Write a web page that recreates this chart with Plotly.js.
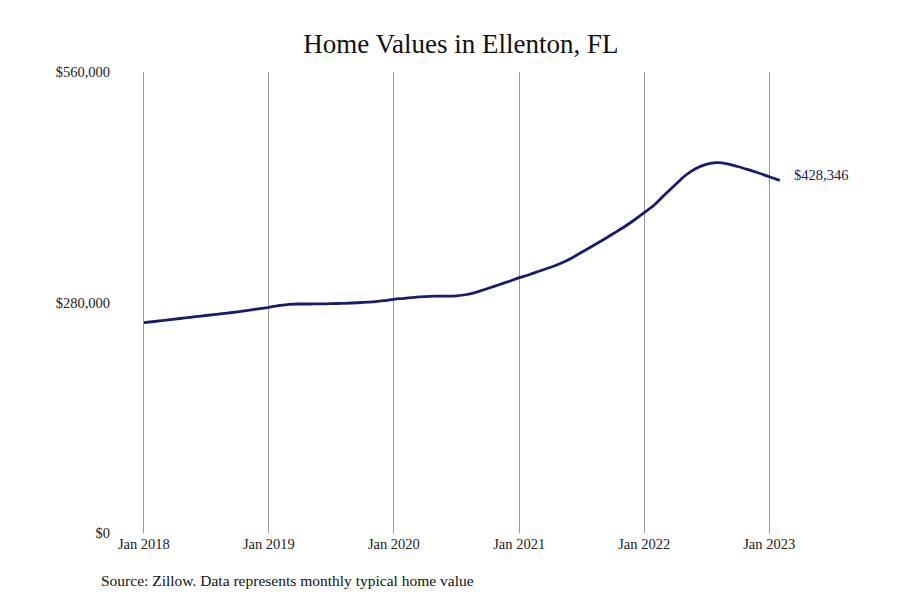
<!DOCTYPE html>
<html>
<head>
<meta charset="utf-8">
<script src="https://cdn.plot.ly/plotly-3.0.1.min.js"></script>
<style>html,body{margin:0;padding:0;background:#fff;}#chart{width:900px;height:600px;}</style>
</head>
<body>
<div id="chart"></div>
<script>
const months = [
  "2018-01-01","2018-02-01","2018-03-01","2018-04-01","2018-05-01","2018-06-01","2018-07-01","2018-08-01","2018-09-01","2018-10-01","2018-11-01","2018-12-01",
  "2019-01-01","2019-02-01","2019-03-01","2019-04-01","2019-05-01","2019-06-01","2019-07-01","2019-08-01","2019-09-01","2019-10-01","2019-11-01","2019-12-01",
  "2020-01-01","2020-02-01","2020-03-01","2020-04-01","2020-05-01","2020-06-01","2020-07-01","2020-08-01","2020-09-01","2020-10-01","2020-11-01","2020-12-01",
  "2021-01-01","2021-02-01","2021-03-01","2021-04-01","2021-05-01","2021-06-01","2021-07-01","2021-08-01","2021-09-01","2021-10-01","2021-11-01","2021-12-01",
  "2022-01-01","2022-02-01","2022-03-01","2022-04-01","2022-05-01","2022-06-01","2022-07-01","2022-08-01","2022-09-01","2022-10-01","2022-11-01","2022-12-01",
  "2023-01-01","2023-02-01"
];
const homeValues = [
  255460,256920,258380,259840,261290,262750,264210,265670,267120,268700,270530,272350,
  274170,276360,277810,278180,278180,278300,278540,278910,279390,280000,280850,282190,
  283890,285100,286320,287170,287650,287780,288020,289720,293000,297010,301260,305510,
  310130,314010,318270,322520,327380,333450,340740,348030,355560,363210,371110,379610,
  389090,399050,410590,422730,434270,442780,447880,449820,448490,445210,441320,437310,
  432820,428346
];
const yTickVals = [0, 280000, 560000];
const yTickText = ["$0", "$280,000", "$560,000"];
const lastLabel = "$428,346";

const serif = "Liberation Serif, Times New Roman, serif";

const trace = {
  x: months,
  y: homeValues,
  type: "scatter",
  mode: "lines",
  line: {color: "#1c1a6b", width: 2.8, shape: "spline", smoothing: 1},
  hoverinfo: "skip"
};

const layout = {
  width: 900, height: 600,
  paper_bgcolor: "#fff", plot_bgcolor: "#fff",
  margin: {l: 111, r: 50, t: 72, b: 67},
  showlegend: false,
  title: {text: "Home Values in Ellenton, FL", font: {family: serif, size: 27, color: "#111"}, x: 0.512, xanchor: "center", y: 0.927, yanchor: "middle"},
  xaxis: {
    type: "date",
    range: ["2017-09-27", "2023-08-25"],
    dtick: "M12", tick0: "2018-01-01", tickformat: "%b %Y",
    showgrid: true, gridcolor: "#9a9a9a", gridwidth: 1,
    zeroline: false, showline: false, ticks: "",
    tickfont: {family: serif, size: 14.5, color: "#222"}
  },
  yaxis: {
    range: [0, 560000],
    tickvals: yTickVals, ticktext: yTickText,
    showgrid: false, zeroline: false, showline: false, ticks: "",
    tickfont: {family: serif, size: 14.5, color: "#222"}
  },
  annotations: [
    {x: months[months.length - 1], y: homeValues[homeValues.length - 1], xref: "x", yref: "y",
     text: lastLabel, showarrow: false, xanchor: "left", yanchor: "middle", xshift: 12, yshift: 5,
     font: {family: serif, size: 14.5, color: "#1c1a4e"}},
    {x: 99, y: 580, xref: "paper", yref: "paper", text: "Source: Zillow. Data represents monthly typical home value",
     showarrow: false, xanchor: "left", yanchor: "middle", font: {family: serif, size: 15.5, color: "#111"}}
  ]
};
// place source note in pixel terms via paper coords
const plotW = 900 - 111 - 50, plotH = 600 - 72 - 67;
layout.annotations[1].x = (99 - 111) / plotW;
layout.annotations[1].y = (600 - 67 - 580) / plotH;

Plotly.newPlot("chart", [trace], layout, {displayModeBar: false, staticPlot: true});
</script>
</body>
</html>
